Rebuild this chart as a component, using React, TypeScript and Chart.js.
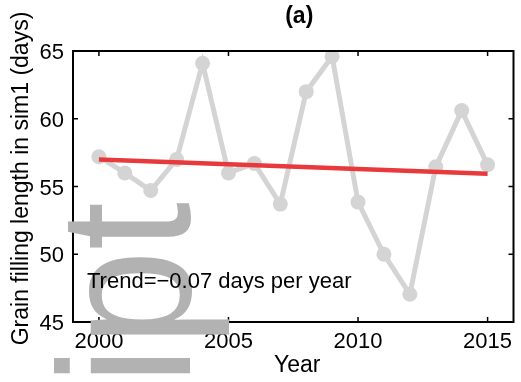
import React, { useEffect, useRef } from 'react';
import { Chart, registerables } from 'chart.js';

Chart.register(...registerables);

// Grain filling length per simulated year
const years = [2000, 2001, 2002, 2003, 2004, 2005, 2006, 2007, 2008, 2009, 2010, 2011, 2012, 2013, 2014, 2015];
const fillingDays = [57.2, 56.0, 54.7, 57.0, 64.1, 56.0, 56.7, 53.7, 62.0, 64.6, 53.85, 50.0, 47.05, 56.45, 60.6, 56.6];

// Linear trend end points
const trendYears = [2000, 2015];
const trendDays = [57.0, 55.95];

// Axis ticks and labels
const xTicks = [2000, 2005, 2010, 2015];
const yTicks = [45, 50, 55, 60, 65];
const panelTitle = '(a)';
const xTitle = 'Year';
const yTitle = 'Grain filling length in sim1 (days)';
const stampText = 'script';

const FONT = '"Liberation Sans", Arial, Helvetica, sans-serif';

const slope = (trendDays[1] - trendDays[0]) / (trendYears[1] - trendYears[0]);
const trendLabel = 'Trend=' + slope.toFixed(2).replace('-', '\u2212') + ' days per year';

const decorations = {
  id: 'decorations',
  afterDraw(chart: any) {
    const { ctx, chartArea: a, scales } = chart;
    const x = scales.x;
    const y = scales.y;
    ctx.save();

    // axes box with inward ticks on all four sides
    ctx.strokeStyle = '#000';
    ctx.lineWidth = 2;
    ctx.strokeRect(a.left, a.top, a.right - a.left, a.bottom - a.top);
    ctx.lineWidth = 1.5;
    const tl = 5;
    ctx.beginPath();
    for (const v of xTicks) {
      const px = x.getPixelForValue(v);
      ctx.moveTo(px, a.bottom);
      ctx.lineTo(px, a.bottom - tl);
      ctx.moveTo(px, a.top);
      ctx.lineTo(px, a.top + tl);
    }
    for (const v of yTicks) {
      const py = y.getPixelForValue(v);
      ctx.moveTo(a.left, py);
      ctx.lineTo(a.left + tl, py);
      ctx.moveTo(a.right, py);
      ctx.lineTo(a.right - tl, py);
    }
    ctx.stroke();

    // titles
    ctx.fillStyle = '#000';
    ctx.textAlign = 'center';
    ctx.textBaseline = 'middle';
    ctx.font = 'bold 23px ' + FONT;
    ctx.fillText(panelTitle, (a.left + a.right) / 2 + 6, 17);
    ctx.font = '23px ' + FONT;
    ctx.fillText(xTitle, (a.left + a.right) / 2 + 4, 366);
    ctx.save();
    ctx.translate(22, (a.top + a.bottom) / 2 - 8);
    ctx.rotate(-Math.PI / 2);
    ctx.fillText(yTitle, 0, 0);
    ctx.restore();

    // large grey stamp text running up the lower left corner
    ctx.save();
    ctx.fillStyle = '#b2b2b2';
    ctx.font = '173px ' + FONT;
    ctx.textAlign = 'right';
    ctx.textBaseline = 'alphabetic';
    ctx.translate(190, 202);
    ctx.rotate(-Math.PI / 2);
    ctx.scale(1, 1.08);
    ctx.fillText(stampText, 0, 0);
    ctx.restore();

    // trend annotation
    ctx.fillStyle = '#000';
    ctx.textAlign = 'left';
    ctx.textBaseline = 'alphabetic';
    ctx.font = '22px ' + FONT;
    ctx.fillText(trendLabel, 87, 288);

    ctx.restore();
  },
};

export default function App() {
  const canvasRef = useRef<HTMLCanvasElement | null>(null);

  useEffect(() => {
    const canvas = canvasRef.current;
    if (!canvas) return;
    const chart = new Chart(canvas, {
      type: 'line',
      data: {
        datasets: [
          {
            label: 'trend',
            data: trendYears.map((yr, i) => ({ x: yr, y: trendDays[i] })),
            borderColor: '#e8393c',
            borderWidth: 4.5,
            pointRadius: 0,
            order: 0,
          },
          {
            label: 'sim1',
            data: years.map((yr, i) => ({ x: yr, y: fillingDays[i] })),
            borderColor: '#d4d4d4',
            borderWidth: 5,
            pointRadius: 7.5,
            pointBackgroundColor: '#d4d4d4',
            pointBorderWidth: 0,
            order: 1,
          },
        ],
      },
      options: {
        responsive: false,
        animation: false,
        devicePixelRatio: 1,
        layout: { padding: { top: 51, right: 3, bottom: 0, left: 0 } },
        plugins: { legend: { display: false }, tooltip: { enabled: false }, title: { display: false } },
        scales: {
          x: {
            type: 'linear',
            min: 1999,
            max: 2016,
            grid: { display: false, drawTicks: false },
            border: { display: false },
            afterBuildTicks: (s: any) => {
              s.ticks = xTicks.map((v) => ({ value: v }));
            },
            afterFit: (s: any) => {
              s.height = 60;
            },
            ticks: {
              color: '#000',
              font: { family: FONT, size: 22 },
              padding: 7,
              maxRotation: 0,
              autoSkip: false,
              callback: (v: any) => String(v),
            },
          },
          y: {
            type: 'linear',
            min: 45,
            max: 65,
            grid: { display: false, drawTicks: false },
            border: { display: false },
            afterBuildTicks: (s: any) => {
              s.ticks = yTicks.map((v) => ({ value: v }));
            },
            afterFit: (s: any) => {
              s.width = 73;
            },
            ticks: {
              color: '#000',
              font: { family: FONT, size: 22 },
              padding: 9,
              labelOffset: 2,
              callback: (v: any) => String(v),
            },
          },
        },
      },
      plugins: [decorations],
    });
    return () => chart.destroy();
  }, []);

  return (
    <canvas
      ref={canvasRef}
      width={521}
      height={382}
      style={{ position: 'fixed', left: 0, top: 0, width: 521, height: 382, display: 'block', background: '#fff' }}
    />
  );
}
